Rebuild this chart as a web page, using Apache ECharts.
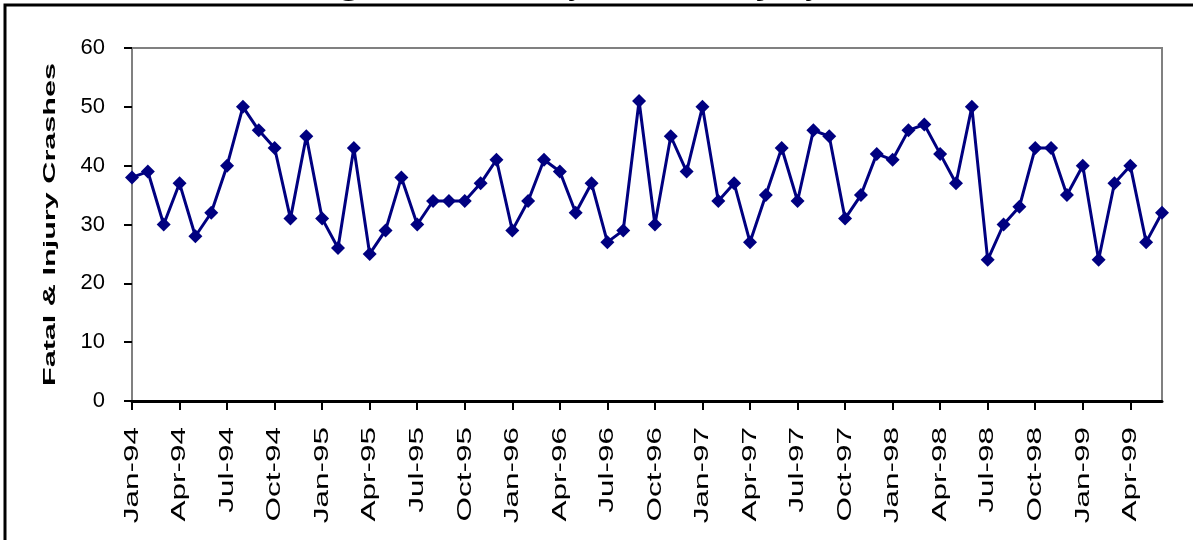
<!DOCTYPE html>
<html>
<head>
<meta charset="utf-8">
<script src="https://cdn.jsdelivr.net/npm/echarts@6/dist/echarts.min.js"></script>
<style>
  html, body { margin: 0; padding: 0; background: #fff; }
  #chart { width: 1193px; height: 540px; }
</style>
</head>
<body>
<div id="chart"></div>
<script>
// monthly fatal & injury crashes, Jan-94 .. Jun-99
const monthNames = ['Jan', 'Feb', 'Mar', 'Apr', 'May', 'Jun', 'Jul', 'Aug', 'Sep', 'Oct', 'Nov', 'Dec'];
const years = ['94', '95', '96', '97', '98', '99'];
const crashes94 = [38, 39, 30, 37, 28, 32, 40, 50, 46, 43, 31, 45];
const crashes95 = [31, 26, 43, 25, 29, 38, 30, 34, 34, 34, 37, 41];
const crashes96 = [29, 34, 41, 39, 32, 37, 27, 29, 51, 30, 45, 39];
const crashes97 = [50, 34, 37, 27, 35, 43, 34, 46, 45, 31, 35, 42];
const crashes98 = [41, 46, 47, 42, 37, 50, 24, 30, 33, 43, 43, 35];
const crashes99 = [40, 24, 37, 40, 27, 32];
const yMin = 0, yMax = 60, yStep = 10;
const titleText = 'Figure 3. Monthly Fatal & Injury Crashes';
const yName = 'Fatal & Injury Crashes';

const byYear = [crashes94, crashes95, crashes96, crashes97, crashes98, crashes99];
const categories = [];
const values = [];
byYear.forEach((arr, yi) => {
  arr.forEach((v, mi) => {
    categories.push(monthNames[mi] + '-' + years[yi]);
    values.push(v);
  });
});

const chart = echarts.init(document.getElementById('chart'));

chart.setOption({
  animation: false,
  backgroundColor: '#fff',
  grid: {
    left: 132, right: 31, top: 48, bottom: 139,
    show: true, borderColor: '#808080', borderWidth: 2, backgroundColor: '#fff'
  },
  xAxis: {
    type: 'category',
    data: categories,
    boundaryGap: false,
    axisLine: { lineStyle: { color: '#000', width: 3 } },
    axisTick: { interval: 2, length: 9, lineStyle: { color: '#000', width: 2 } },
    axisLabel: { show: false },
    splitLine: { show: false }
  },
  yAxis: {
    type: 'value',
    min: yMin, max: yMax, interval: yStep,
    axisLine: { show: true, lineStyle: { color: '#808080', width: 2 } },
    axisTick: { show: true, length: 8, lineStyle: { color: '#000', width: 2 } },
    axisLabel: { color: '#000', fontFamily: 'Liberation Sans', fontSize: 22, margin: 27 },
    splitLine: { show: false }
  },
  series: [{
    type: 'line',
    data: values,
    showSymbol: true,
    showAllSymbol: true,
    symbol: 'diamond',
    symbolSize: 14,
    lineStyle: { color: '#000080', width: 3 },
    itemStyle: { color: '#000080' }
  }]
});

// rotated, stretched labels like the original spreadsheet chart
const axisY = chart.convertToPixel({ yAxisIndex: 0 }, yMin);
const topY = chart.convertToPixel({ yAxisIndex: 0 }, yMax);
const graphics = [
  {
    type: 'text', x: 308, y: -16, silent: true,
    style: { text: titleText, font: 'bold 36px "Liberation Serif"', fill: '#000', align: 'left', verticalAlign: 'middle' }
  },
  {
    type: 'rect', silent: true, z: 10,
    shape: { x: 5, y: 5, width: 1400, height: 800 },
    style: { fill: 'none', stroke: '#000', lineWidth: 3 }
  },
  {
    type: 'text', x: 50, y: (axisY + topY) / 2, rotation: Math.PI / 2, scaleX: 1.8, silent: true,
    style: { text: yName, font: 'bold 17px "Liberation Sans"', fill: '#000', align: 'center', verticalAlign: 'middle' }
  }
];
categories.forEach((c, i) => {
  if (i % 3 !== 0) return;
  const px = chart.convertToPixel({ xAxisIndex: 0 }, i);
  graphics.push({
    type: 'text', x: px, y: axisY + 26, rotation: Math.PI / 2, scaleX: 1.5, silent: true,
    style: { text: c, font: '21px "Liberation Sans"', fill: '#000', align: 'right', verticalAlign: 'middle' }
  });
});
chart.setOption({ graphic: graphics });
</script>
</body>
</html>
